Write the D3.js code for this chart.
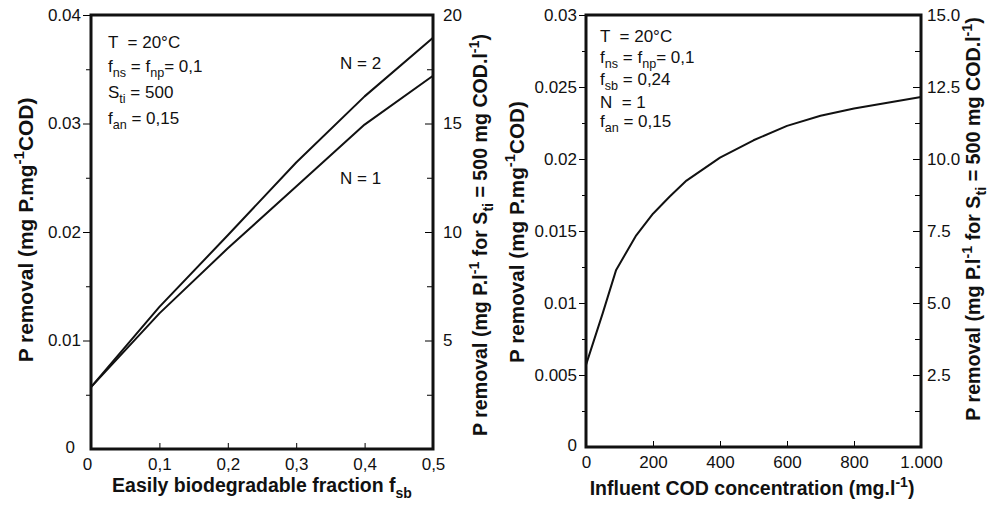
<!DOCTYPE html>
<html lang="en">

<head>
  <meta charset="UTF-8" />
  <title>P removal</title>
  <script src="https://d3js.org/d3.v7.min.js"></script>
  <style>
    * {
      margin: 0;
      padding: 0;
    }

    body {
      background: #fff;
    }

    svg text {
      font-family: "Liberation Sans", Arial, Helvetica, sans-serif;
      fill: #111;
      white-space: pre;
    }

    .tick text,
    .note {
      font-size: 17px;
    }

    .title {
      font-size: 17px;
      font-weight: bold;
    }
  </style>
</head>

<body>
  <script>
    // left chart: P removal vs easily biodegradable fraction
    const fsbValues = [0, 0.1, 0.2, 0.3, 0.4, 0.5];
    const removalN1 = [0.0057, 0.0125, 0.0185, 0.0242, 0.0299, 0.0344];
    const removalN2 = [0.0057, 0.0131, 0.0197, 0.0264, 0.0325, 0.0379];

    // right chart: P removal vs influent COD
    const codValues = [0, 50, 90, 150, 200, 250, 300, 350, 400, 500, 600, 700, 800, 900, 1000];
    const removalCod = [0.0057, 0.0093, 0.0123, 0.0147, 0.0162, 0.0174, 0.0185, 0.0193, 0.0201, 0.0213, 0.0223, 0.0230, 0.0235, 0.0239, 0.0243];

    // ticks
    const leftX = [0, 0.1, 0.2, 0.3, 0.4, 0.5];
    const leftXLabels = ['0', '0,1', '0,2', '0,3', '0,4', '0,5'];
    const leftY = [0.01, 0.02, 0.03, 0.04];
    const leftYLabels = ['0.01', '0.02', '0.03', '0.04'];
    const leftYMinor = [0.005, 0.015, 0.025, 0.035];
    const leftY2 = [5, 10, 15, 20];
    const leftY2Labels = ['5', '10', '15', '20'];
    const leftY2Minor = [2.5, 7.5, 12.5, 17.5];

    const rightX = [0, 200, 400, 600, 800, 1000];
    const rightXLabels = ['0', '200', '400', '600', '800', '1.000'];
    const rightY = [0.005, 0.01, 0.015, 0.02, 0.025, 0.03];
    const rightYLabels = ['0.005', '0.01', '0.015', '0.02', '0.025', '0.03'];
    const rightYMinor = [0.0025, 0.0075, 0.0125, 0.0175, 0.0225, 0.0275];
    const rightY2 = [2.5, 5, 7.5, 10, 12.5, 15];
    const rightY2Labels = ['2.5', '5.0', '7.5', '10.0', '12.5', '15.0'];
    const rightY2Minor = [1.25, 3.75, 6.25, 8.75, 11.25, 13.75];

    const [w, h] = [990, 505];
    const svg = d3.select('body').append('svg')
      .attr('width', w)
      .attr('height', h);

    // text with sub/superscripts, parts = ['text', ['sub', 'sub'], ...]
    function rich(sel, parts, size) {
      let off = 0;
      parts.forEach(p => {
        const [txt, kind] = typeof p === 'string' ? [p, ''] : p;
        const target = kind === 'sub' ? size * 0.3 : kind === 'sup' ? -size * 0.42 : 0;
        sel.append('tspan')
          .attr('dy', target - off)
          .style('font-size', kind ? (size * 0.72) + 'px' : null)
          .text(txt);
        off = target;
      });
      return sel;
    }

    // titles are sized to the length they have in the original
    function fitted(sel, parts, len) {
      rich(sel, parts, 17);
      const size = 17 * len / sel.node().getComputedTextLength();
      sel.selectAll('tspan').remove();
      sel.style('font-size', size + 'px');
      rich(sel, parts, size);
    }

    function cleanAxis(g) {
      g.attr('font-size', null).attr('font-family', null);
      g.select('.domain').remove();
    }

    function panel(c) {
      const x = d3.scaleLinear().domain(c.xDomain).range([c.left, c.right]);
      const y = d3.scaleLinear().domain(c.yDomain).range([c.bottom, c.top]);
      const y2 = d3.scaleLinear().domain(c.y2Domain).range([c.bottom, c.top]);
      const g = svg.append('g');

      // minor + major ticks, left side outward
      g.append('g').attr('transform', `translate(${c.left},0)`)
        .call(d3.axisLeft(y).tickValues(c.yMinor).tickSize(c.minorOut).tickFormat(''))
        .call(cleanAxis);
      g.append('g').attr('transform', `translate(${c.left},0)`)
        .call(d3.axisLeft(y).tickValues(c.yTicks).tickSize(c.majorOut).tickPadding(2)
          .tickFormat((d, i) => c.yLabels[i]))
        .call(cleanAxis);

      // right side, inward
      g.append('g').attr('transform', `translate(${c.right},0)`)
        .call(d3.axisRight(y2).tickValues(c.y2Minor).tickSize(-6).tickFormat(''))
        .call(cleanAxis);
      g.append('g').attr('transform', `translate(${c.right},0)`)
        .call(d3.axisRight(y2).tickValues(c.y2Ticks).tickSize(-8).tickPadding(c.rightPad)
          .tickFormat((d, i) => c.y2Labels[i]))
        .call(cleanAxis);

      // bottom, inward
      const xa = g.append('g').attr('transform', `translate(0,${c.bottom})`)
        .call(d3.axisBottom(x).tickValues(c.xTicks).tickSize(-6).tickPadding(9)
          .tickFormat((d, i) => c.xLabels[i]))
        .call(cleanAxis);
      xa.select('.tick text').attr('dx', c.xZeroDx);

      // lone zero on y axis
      g.append('text')
        .attr('class', 'note')
        .attr('x', c.left - c.zeroOff)
        .attr('y', y(0))
        .attr('dy', '0.25em')
        .attr('text-anchor', 'end')
        .text('0');

      const line = d3.line().x(d => x(d[0])).y(d => y(d[1]));
      c.series.forEach(s => {
        g.append('path')
          .datum(s)
          .attr('d', line)
          .attr('fill', 'none')
          .attr('stroke', '#111')
          .attr('stroke-width', 2)
          .attr('stroke-linejoin', 'round');
      });

      // frame
      g.append('rect')
        .attr('x', c.left)
        .attr('y', c.top)
        .attr('width', c.right - c.left)
        .attr('height', c.bottom - c.top)
        .attr('fill', 'none')
        .attr('stroke', '#111')
        .attr('stroke-width', 3);

      // axis titles
      fitted(g.append('text').attr('class', 'title')
        .attr('x', c.xTitle.x).attr('y', c.xTitle.y)
        .attr('text-anchor', 'middle'), c.xTitle.parts, c.xTitle.len);
      [c.yTitle, c.y2Title].forEach(t => {
        fitted(g.append('text').attr('class', 'title')
          .attr('transform', `translate(${t.x},${t.y}) rotate(-90)`)
          .attr('text-anchor', 'middle'), t.parts, t.len);
      });

      // notes in the plot
      c.notes.forEach((n, i) => {
        rich(g.append('text').attr('class', 'note')
          .attr('x', c.noteX).attr('y', c.noteY[i]), n, 17.5);
      });
      (c.labels || []).forEach(l => {
        g.append('text').attr('class', 'note')
          .attr('x', l[0]).attr('y', l[1]).text(l[2]);
      });
    }

    const y2Parts = ['P removal (mg P.l', ['-1', 'sup'], ' for S', ['ti', 'sub'], ' = 500 mg COD.l', ['-1', 'sup'], ')'];
    const yParts = ['P removal (mg P.mg', ['-1', 'sup'], 'COD)'];

    panel({
      left: 91, right: 433, top: 15, bottom: 449,
      xDomain: [0, 0.5], yDomain: [0, 0.04], y2Domain: [0, 20],
      xTicks: leftX, xLabels: leftXLabels,
      yTicks: leftY, yLabels: leftYLabels, yMinor: leftYMinor,
      y2Ticks: leftY2, y2Labels: leftY2Labels, y2Minor: leftY2Minor,
      majorOut: 8, minorOut: 5, rightPad: 10, zeroOff: 16, xZeroDx: -4,
      series: [fsbValues.map((v, i) => [v, removalN1[i]]), fsbValues.map((v, i) => [v, removalN2[i]])],
      xTitle: { parts: ['Easily biodegradable fraction f', ['sb', 'sub']], x: 262, y: 492, len: 300 },
      yTitle: { parts: yParts, x: 33, y: 230, len: 265 },
      y2Title: { parts: y2Parts, x: 487, y: 235, len: 402 },
      noteX: 108, noteY: [48, 72, 98, 124],
      notes: [
        ['T  = 20°C'],
        ['f', ['ns', 'sub'], ' = f', ['np', 'sub'], '= 0,1'],
        ['S', ['ti', 'sub'], ' = 500'],
        ['f', ['an', 'sub'], ' = 0,15']
      ],
      labels: [[340, 69, 'N = 2'], [340, 184, 'N = 1']]
    });

    panel({
      left: 586, right: 921, top: 15, bottom: 447,
      xDomain: [0, 1000], yDomain: [0, 0.03], y2Domain: [0, 15],
      xTicks: rightX, xLabels: rightXLabels,
      yTicks: rightY, yLabels: rightYLabels, yMinor: rightYMinor,
      y2Ticks: rightY2, y2Labels: rightY2Labels, y2Minor: rightY2Minor,
      majorOut: 7, minorOut: 4, rightPad: 6, zeroOff: 9, xZeroDx: 0,
      series: [codValues.map((v, i) => [v, removalCod[i]])],
      xTitle: { parts: ['Influent COD concentration (mg.l', ['-1', 'sup'], ')'], x: 752, y: 495, len: 325 },
      yTitle: { parts: yParts, x: 524, y: 232, len: 262 },
      y2Title: { parts: y2Parts, x: 980, y: 219, len: 404 },
      noteX: 600, noteY: [42, 63, 85, 108, 127],
      notes: [
        ['T  = 20°C'],
        ['f', ['ns', 'sub'], ' = f', ['np', 'sub'], '= 0,1'],
        ['f', ['sb', 'sub'], ' = 0,24'],
        ['N  = 1'],
        ['f', ['an', 'sub'], ' = 0,15']
      ]
    });
  </script>
</body>

</html>
